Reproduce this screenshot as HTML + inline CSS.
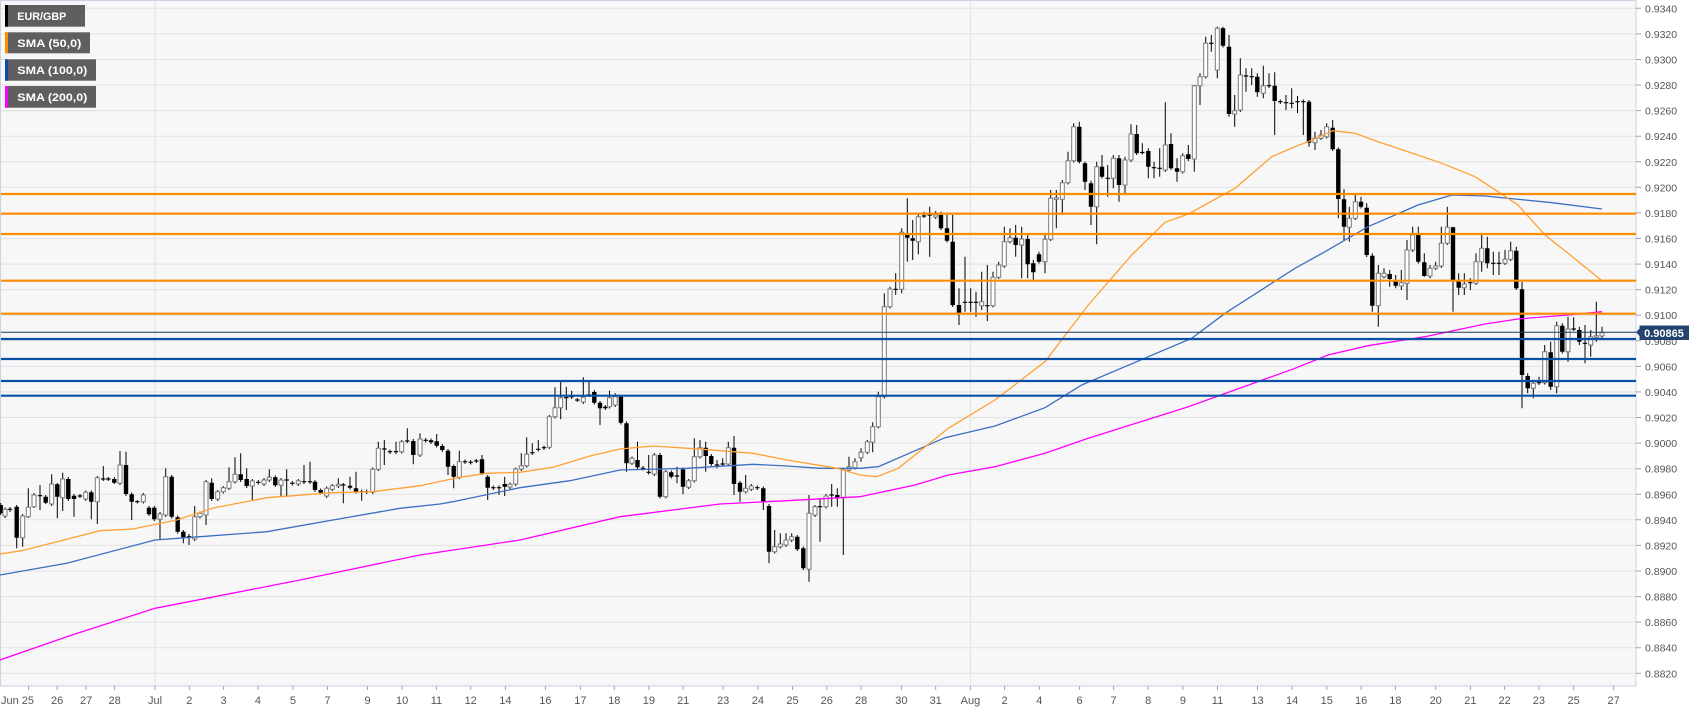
<!DOCTYPE html>
<html><head><meta charset="utf-8"><style>
html,body{margin:0;padding:0;background:#fff;}
svg{display:block;font-family:"Liberation Sans",Arial,sans-serif;}
</style></head><body>
<svg width="1707" height="712" viewBox="0 0 1707 712" xmlns="http://www.w3.org/2000/svg">
<rect x="0" y="0" width="1707" height="712" fill="#fff"/>
<rect x="0.5" y="0.5" width="1635.5" height="685.5" fill="#f7f7f7" stroke="#c9d1e3" stroke-width="1"/>
<g stroke="#e2e2e2" stroke-width="1">
<path d="M1 8.3H1636M1 33.9H1636M1 59.5H1636M1 85H1636M1 110.6H1636M1 136.2H1636M1 161.8H1636M1 187.3H1636M1 212.9H1636M1 238.5H1636M1 264.1H1636M1 289.6H1636M1 315.2H1636M1 340.8H1636M1 366.4H1636M1 391.9H1636M1 417.5H1636M1 443.1H1636M1 468.7H1636M1 494.3H1636M1 519.8H1636M1 545.4H1636M1 571H1636M1 596.6H1636M1 622.1H1636M1 647.7H1636M1 673.3H1636"/>
<path d="M155 1V686M970.4 1V686"/>
</g>
<!-- candles -->
<path fill="none" stroke="#000" stroke-width="1" d="M0.7 503V515 M5 507.5V518 M10 507V512 M16.7 505V548.3 M22.7 514V546.7 M28.3 488.3V518 M34 493V508 M40 485V510 M45.7 495V504 M51.7 474.3V506 M57.3 483V518.3 M62.7 472.7V511 M68.3 477V501 M74 494V516.7 M80 494V498 M85.7 490.5V501 M91.3 490.5V519.3 M97.3 476V524 M103.3 466V481 M108.3 477V481 M114.3 477V484 M120 451V485 M126 451.7V496 M131.7 492.5V520 M137.3 500V503.5 M143.3 493V503.5 M149 506V516 M154.3 506V521 M160 512V539.3 M165.7 468.3V517 M171.7 475V518.5 M177.7 515.5V533.5 M183.3 530V543.3 M189 534V545 M194.7 506V541 M200 511.5V518.5 M206 480V525 M211.7 478.3V501 M217.7 490V501 M223.3 486V493.5 M229 467.3V490 M235 457.3V483.5 M240.7 453.3V482 M246.7 468.3V488 M252.3 479V500 M258.3 480V484.5 M264 478V486 M269.3 469.3V482 M275.3 475.5V487 M281 478V496.7 M286.7 469.3V496.7 M292.3 481V485.5 M298.3 479V486 M304 465V484 M310 461.7V484 M315 480V492 M320.7 488.5V494.5 M326.7 486.5V498 M332.3 484V491 M338.3 478.3V488 M343.3 483V503.3 M350 476.7V489.5 M356 471.7V493.5 M361.7 489.5V500.7 M366.7 489.5V494 M372.7 467.5V494 M378.3 441.7V471 M384.3 440V465 M390 449.5V454 M396 441.7V454 M401.7 440V453.5 M407.3 428.3V443 M413.3 439V464.3 M420 433.3V457 M425.7 438V442.5 M431 438.5V444 M436.7 434V447.5 M442.3 444V452 M448 449V475 M453.7 464.5V488.3 M459.3 450.7V479 M465 459.5V464 M470.7 460V464.5 M476.3 459V463 M482 455V475 M487.7 475V500 M493.3 485.5V490 M499 485.5V495 M504.7 476.7V496 M510 482.5V489 M515.7 467.5V486 M521.3 453.3V471 M526.7 437.3V467.5 M532.3 443.3V455 M538.3 440V451.5 M544 445.5V450 M549.3 415V449 M555 387.3V418.5 M560.7 381.7V419.3 M566.3 386.7V410 M571.7 390.7V399 M577.3 398V402 M583.3 377.3V404 M589 381.7V397 M594.3 390V404.5 M600 401V425 M605.3 405V410 M609.5 390.7V408.5 M615.2 393.3V407 M620.9 395V424.5 M626.5 421.5V471.7 M632 456.5V465 M637.5 441.7V469 M643 466V470.5 M648.7 455V474.5 M654.3 453V476 M660 453V498.5 M665.7 470V498.3 M671.3 470.5V478.5 M677 466.7V483.3 M683 467.5V494.3 M688.7 479V489 M694.3 438.3V482.5 M700 440V458.5 M705.7 441.7V471.7 M711.3 454V466 M717 460V468.3 M722.7 458.3V466 M728.3 441.7V466 M734 436V495 M740 481V501.7 M745.7 475V493.5 M751.3 484V491 M757.3 485.5V490 M763.3 486.5V510 M769 504V563.3 M774.7 530V553.5 M780.3 533.3V548.5 M786 533.3V547 M791.7 533.3V542 M797.3 535V551 M803.3 546.5V570 M809 495V581.7 M815 505V517 M820 498.3V541.7 M826 494V508.5 M831.7 484V506.7 M837.3 488.3V506.7 M843.3 468V555 M849 456.7V472 M855 458.3V469.5 M861 448.3V461.7 M867.3 440V454 M872.7 422.3V452.3 M878.3 391.7V428.5 M884.3 293.3V398.5 M890 286.7V308.5 M895.7 273.3V295 M901.7 228.3V293.3 M907.3 198.3V261.7 M912.7 220V260 M918.3 213.3V254.3 M924 211.7V218 M929.7 206.7V256.7 M935.7 211V219 M941 211.7V230 M947 215V242.5 M952.7 215V307 M959 288.3V325 M965 256.7V311.7 M970.7 288.3V311.7 M976 291.7V316.7 M981.7 271.7V310 M987.3 265V321 M993 271.7V307.5 M998.7 261.7V279 M1004.3 226.7V268 M1010 228.3V243.5 M1015.7 225V256.7 M1021.7 226.7V278.3 M1027.7 235V278.3 M1033.3 260V280 M1039 251.7V263.5 M1045 235V273.3 M1050.7 190V241 M1056.3 190V228.3 M1062.3 180V215 M1068 151.7V184.5 M1073.7 123.3V162.5 M1079.3 121.7V163.5 M1085 161.5V190 M1091 180.7V225 M1096.7 161.7V244.3 M1102 155V178.5 M1107.7 165V196.7 M1113.3 155V188.3 M1119 155V201.7 M1125 156.7V193.3 M1131 124.3V162 M1136.7 125V155 M1142.3 143.3V154.5 M1148.3 148.3V178.3 M1154 161.7V178.3 M1159.7 148.3V176.7 M1165.3 102.3V172 M1171 133.3V170 M1177 158.3V181.7 M1182.7 153.3V173.5 M1188.3 145V161 M1194.3 85V171.7 M1200 73.3V105 M1205.7 36.7V78.5 M1211.3 35V51.7 M1217.3 26.7V78.3 M1223 26.7V47.5 M1229 35V116.7 M1234.7 95V126.7 M1240.3 58.3V112 M1246 68.3V91.7 M1251.7 68.3V85 M1257.3 73.3V96.7 M1263.3 65.7V98.3 M1269 73.3V88 M1274.7 72.3V135 M1280.3 99.5V104 M1286 95V110 M1291.7 88.3V108.3 M1297.5 96V113 M1303.3 99.5V135 M1309 100V146.7 M1315 131.7V150 M1321 130V140 M1326.7 123.3V138.5 M1332.7 120V151 M1338.3 147.5V218.3 M1344 189.3V240 M1349.3 206.7V241.7 M1355.3 193.3V220 M1361 196.7V208.5 M1366.7 203.3V257 M1372.3 253.3V311.7 M1378.3 265V326.7 M1384 268.3V278.5 M1389.7 270V286.7 M1395.7 275V288.3 M1401.3 270V290 M1407 240V300 M1412.7 226.7V252 M1418.3 226.7V263.5 M1424.3 253.3V276.7 M1430 265V278.3 M1435.7 261.7V270 M1441.3 226.7V268 M1447.3 206.7V245 M1453 226.7V311.7 M1458.7 273.3V295 M1464.3 273.3V295 M1470.3 278.3V290 M1476 253.3V285 M1481.7 235V271.7 M1487.3 236.7V268.3 M1493.3 251.7V275 M1499 251.7V275 M1505 250V265 M1510.7 241.7V261 M1516.3 246.7V290 M1522 281.7V408.3 M1527.7 373.3V393.3 M1533.3 380V398.3 M1539 376.7V385 M1544.7 345V384.5 M1550.7 341.7V390 M1556.7 321.7V393.3 M1562.3 323.3V353.5 M1568 316.7V361.7 M1573.7 317.3V331 M1579.3 326.7V345 M1585 325V363.3 M1590.7 330V356.7 M1596.3 301.7V341.7 M1602 326.7V338"/>
<path fill="#000" d="M-1.5 505h4.4V513.3h-4.4z M14.5 506.7h4.4V537.7h-4.4z M43.5 496.7h4.4V502.7h-4.4z M55.1 484.3h4.4V496.7h-4.4z M66.1 479h4.4V499h-4.4z M71.8 495.7h4.4V499h-4.4z M89.1 492.3h4.4V501.7h-4.4z M112.1 479h4.4V482.7h-4.4z M123.8 465h4.4V494h-4.4z M129.5 494.3h4.4V501.7h-4.4z M146.8 507.7h4.4V514.3h-4.4z M152.1 507.7h4.4V519.3h-4.4z M169.5 476.7h4.4V516.7h-4.4z M175.5 517.3h4.4V531.7h-4.4z M181.1 531.7h4.4V537.3h-4.4z M209.5 482.7h4.4V499h-4.4z M238.5 474.3h4.4V480h-4.4z M244.5 479h4.4V486h-4.4z M273.1 477.3h4.4V485.3h-4.4z M312.8 481.7h4.4V490h-4.4z M318.5 490h4.4V492.7h-4.4z M347.8 485.7h4.4V487.7h-4.4z M353.8 488.3h4.4V491.7h-4.4z M411.1 441h4.4V455h-4.4z M428.8 440.3h4.4V442.3h-4.4z M434.5 441.3h4.4V445.7h-4.4z M440.1 446h4.4V450h-4.4z M445.8 450.7h4.4V466.7h-4.4z M451.5 466h4.4V476.7h-4.4z M479.8 459.3h4.4V473.3h-4.4z M485.5 476.7h4.4V487.7h-4.4z M502.5 484h4.4V486.7h-4.4z M592.1 392h4.4V402.7h-4.4z M597.8 402.7h4.4V408.3h-4.4z M603.1 406.7h4.4V408.3h-4.4z M618.7 396.7h4.4V422.7h-4.4z M624.3 423.3h4.4V463.3h-4.4z M635.3 460h4.4V467.3h-4.4z M657.8 455h4.4V496.7h-4.4z M669.1 472.3h4.4V476.7h-4.4z M680.8 469.3h4.4V486.7h-4.4z M703.5 447.7h4.4V456h-4.4z M709.1 456h4.4V464h-4.4z M731.8 447.7h4.4V484h-4.4z M737.8 482.7h4.4V491.7h-4.4z M761.1 488.3h4.4V501.7h-4.4z M766.8 506h4.4V551.7h-4.4z M795.1 536.7h4.4V549.3h-4.4z M801.1 548.3h4.4V568.3h-4.4z M835.1 495h4.4V498.3h-4.4z M905.1 233.3h4.4V237.7h-4.4z M910.5 238.3h4.4V240.7h-4.4z M938.8 215h4.4V228.3h-4.4z M944.8 228.3h4.4V240.7h-4.4z M950.5 241.7h4.4V305h-4.4z M956.8 305h4.4V312.7h-4.4z M1013.5 237.7h4.4V245h-4.4z M1025.5 239h4.4V264.3h-4.4z M1031.1 263.3h4.4V272.3h-4.4z M1036.8 254.3h4.4V261.7h-4.4z M1077.1 126.7h4.4V161.7h-4.4z M1082.8 163.3h4.4V181.7h-4.4z M1088.8 183.3h4.4V206.7h-4.4z M1099.8 166.7h4.4V176.7h-4.4z M1116.8 158.3h4.4V185h-4.4z M1134.5 134h4.4V153.3h-4.4z M1146.1 151h4.4V166.7h-4.4z M1168.8 144h4.4V168.3h-4.4z M1174.8 168.3h4.4V171.7h-4.4z M1186.1 154.3h4.4V159h-4.4z M1220.8 28.3h4.4V45.7h-4.4z M1226.8 46.7h4.4V114h-4.4z M1255.1 76.7h4.4V92.3h-4.4z M1272.5 85.7h4.4V101h-4.4z M1306.8 101.7h4.4V142.7h-4.4z M1330.5 127.7h4.4V149.3h-4.4z M1336.1 149.3h4.4V199h-4.4z M1341.8 199.3h4.4V226.7h-4.4z M1358.8 201.7h4.4V206.7h-4.4z M1364.5 207.7h4.4V255h-4.4z M1370.1 255.7h4.4V305.7h-4.4z M1387.5 274h4.4V279h-4.4z M1393.5 280h4.4V285.7h-4.4z M1416.1 235h4.4V261.7h-4.4z M1422.1 262.3h4.4V276h-4.4z M1450.8 227.3h4.4V280h-4.4z M1456.5 280h4.4V287.7h-4.4z M1485.1 248.3h4.4V263.3h-4.4z M1514.1 250.7h4.4V288.3h-4.4z M1519.8 289.3h4.4V375h-4.4z M1525.5 376h4.4V388.3h-4.4z M1548.5 352.3h4.4V386.7h-4.4z M1560.1 325.7h4.4V351.7h-4.4z M1577.1 330h4.4V341.7h-4.4z"/>
<path fill="#fff" stroke="#7a7a7a" stroke-width="1" d="M3 509.3h4V516h-4z M20.7 516h4V537.7h-4z M26.3 507.3h4V516.7h-4z M32 495h4V506.7h-4z M49.7 484h4V504h-4z M60.7 479h4V497.7h-4z M83.7 492.3h4V499h-4z M95.3 477.7h4V501.7h-4z M118 465h4V483.3h-4z M141.3 495h4V501.7h-4z M158 514h4V519.3h-4z M163.7 476.7h4V515h-4z M192.7 516.7h4V539h-4z M198 513.3h4V516.7h-4z M204 481.7h4V515h-4z M215.7 491.7h4V499h-4z M221.3 487.7h4V491.7h-4z M227 481.7h4V488.3h-4z M233 474.3h4V481.7h-4z M250.3 481h4V486h-4z M262 480h4V484h-4z M267.3 477.3h4V480h-4z M279 480h4V485.3h-4z M296.3 480.7h4V484h-4z M324.7 488.3h4V496h-4z M330.3 485.7h4V489.3h-4z M336.3 484.3h4V486h-4z M370.7 469.3h4V492.3h-4z M376.3 448.3h4V469.3h-4z M399.7 441.7h4V451.7h-4z M418 439h4V455h-4z M457.3 461.7h4V477.3h-4z M508 484.3h4V487h-4z M513.7 469h4V484h-4z M519.3 465.7h4V469h-4z M524.7 454.3h4V465.7h-4z M547.3 416.7h4V447.3h-4z M553 407.7h4V416.7h-4z M558.7 397.7h4V407.7h-4z M581.3 397.3h4V402h-4z M607.5 397.7h4V406.7h-4z M613.2 396.7h4V405h-4z M630 458.3h4V463.3h-4z M652.3 455h4V474h-4z M663.7 471.7h4V496.7h-4z M686.7 480.7h4V487.3h-4z M692.3 456.7h4V480.7h-4z M698 447.7h4V456.7h-4z M726.3 447.7h4V464h-4z M743.7 488.3h4V491.7h-4z M749.3 486h4V489.3h-4z M772.7 546.7h4V551.7h-4z M778.3 544h4V546.7h-4z M784 540h4V545h-4z M789.7 536.7h4V540h-4z M807 513.3h4V569.3h-4z M813 506.7h4V515h-4z M824 496h4V506.7h-4z M841.3 470h4V497.3h-4z M847 466.7h4V470h-4z M853 461.7h4V467.7h-4z M859 452.3h4V457.7h-4z M865.3 441.7h4V452.3h-4z M870.7 426.7h4V442.3h-4z M876.3 396.7h4V426.7h-4z M882.3 306.7h4V396.7h-4z M888 289h4V306.7h-4z M899.7 232.3h4V289.3h-4z M916.3 216.7h4V241.7h-4z M933.7 215h4V217h-4z M979.7 301.7h4V305.7h-4z M991 277.3h4V305.7h-4z M996.7 265h4V277.3h-4z M1002.3 241.7h4V266h-4z M1008 237.7h4V241.7h-4z M1019.7 239h4V245h-4z M1043 239.3h4V261.7h-4z M1048.7 198.3h4V239.3h-4z M1054.3 197.7h4V199.3h-4z M1060.3 182.7h4V199.3h-4z M1066 160.7h4V182.7h-4z M1071.7 126.7h4V160.7h-4z M1094.7 166.7h4V206.7h-4z M1111.3 158.3h4V178.3h-4z M1123 160h4V185h-4z M1129 134h4V160h-4z M1163.3 145h4V170h-4z M1180.7 155.7h4V171.7h-4z M1192.3 85.7h4V159h-4z M1198 76.7h4V85.7h-4z M1203.7 43.3h4V76.7h-4z M1215.3 28.3h4V70h-4z M1232.7 110.7h4V114h-4z M1238.3 75h4V110h-4z M1261.3 85.7h4V93.3h-4z M1313 138.3h4V142.7h-4z M1319 135h4V138.3h-4z M1324.7 126.7h4V136.7h-4z M1347.3 218.3h4V227.3h-4z M1353.3 201.7h4V218.3h-4z M1376.3 273.3h4V305.7h-4z M1382 273.3h4V276.7h-4z M1399.3 282.7h4V286h-4z M1405 250h4V283.3h-4z M1410.7 235h4V250h-4z M1428 268.3h4V276h-4z M1433.7 266h4V268.3h-4z M1439.3 243.3h4V266h-4z M1445.3 227.3h4V243.3h-4z M1462.3 284h4V287.7h-4z M1474 261.7h4V283.3h-4z M1479.7 248.3h4V261.7h-4z M1503 259.3h4V263.3h-4z M1508.7 250.7h4V259.3h-4z M1531.3 383.3h4V388.3h-4z M1542.7 351.7h4V382.7h-4z M1554.7 325.7h4V386.7h-4z M1566 329h4V351.7h-4z M1588.7 336.7h4V345h-4z M1594.3 335.7h4V337.3h-4z M1600 332.7h4V336h-4z"/>
<path fill="#000" d="M7.8 508.7h4.4v1.2h-4.4z M37.8 495.1h4.4v1.2h-4.4z M77.8 495.4h4.4v1.2h-4.4z M101.1 478.4h4.4v1.2h-4.4z M106.1 478.4h4.4v1.2h-4.4z M135.1 501.1h4.4v1.2h-4.4z M186.8 536.1h4.4v1.2h-4.4z M256.1 481.7h4.4v1.2h-4.4z M284.5 479.4h4.4v1.2h-4.4z M290.1 482.7h4.4v1.2h-4.4z M301.8 481.1h4.4v1.2h-4.4z M307.8 481.1h4.4v1.2h-4.4z M341.1 484.4h4.4v1.2h-4.4z M359.5 491.1h4.4v1.2h-4.4z M364.5 491.1h4.4v1.2h-4.4z M382.1 448.4h4.4v1.2h-4.4z M387.8 451.1h4.4v1.2h-4.4z M393.8 451.1h4.4v1.2h-4.4z M405.1 440.4h4.4v1.2h-4.4z M423.5 439.7h4.4v1.2h-4.4z M462.8 461.1h4.4v1.2h-4.4z M468.5 461.7h4.4v1.2h-4.4z M474.1 460.4h4.4v1.2h-4.4z M491.1 487.1h4.4v1.2h-4.4z M496.8 487.1h4.4v1.2h-4.4z M530.1 452.1h4.4v1.2h-4.4z M536.1 448.7h4.4v1.2h-4.4z M541.8 447.1h4.4v1.2h-4.4z M564.1 397.1h4.4v1.2h-4.4z M569.5 396.1h4.4v1.2h-4.4z M575.1 399.4h4.4v1.2h-4.4z M586.8 394.4h4.4v1.2h-4.4z M640.8 467.7h4.4v1.2h-4.4z M646.5 471.7h4.4v1.2h-4.4z M674.8 475.4h4.4v1.2h-4.4z M714.8 464.4h4.4v1.2h-4.4z M720.5 463.4h4.4v1.2h-4.4z M755.1 487.1h4.4v1.2h-4.4z M817.8 506.1h4.4v1.2h-4.4z M829.5 494.4h4.4v1.2h-4.4z M893.5 288.7h4.4v1.2h-4.4z M921.8 215.4h4.4v1.2h-4.4z M927.5 214.4h4.4v1.2h-4.4z M962.8 301.7h4.4v1.2h-4.4z M968.5 301.7h4.4v1.2h-4.4z M973.8 301.7h4.4v1.2h-4.4z M985.1 305.1h4.4v1.2h-4.4z M1105.5 177.7h4.4v1.2h-4.4z M1140.1 151.9h4.4v1.2h-4.4z M1151.8 167.1h4.4v1.2h-4.4z M1157.5 167.7h4.4v1.2h-4.4z M1209.1 42.7h4.4v1.2h-4.4z M1243.8 75.4h4.4v1.2h-4.4z M1249.5 76.1h4.4v1.2h-4.4z M1266.8 85.1h4.4v1.2h-4.4z M1278.1 101.1h4.4v1.2h-4.4z M1283.8 102.1h4.4v1.2h-4.4z M1289.5 102.7h4.4v1.2h-4.4z M1295.3 101.1h4.4v1.2h-4.4z M1301.1 101.1h4.4v1.2h-4.4z M1468.1 282.1h4.4v1.2h-4.4z M1491.1 262.7h4.4v1.2h-4.4z M1496.8 262.7h4.4v1.2h-4.4z M1536.8 382.1h4.4v1.2h-4.4z M1571.5 328.4h4.4v1.2h-4.4z M1582.8 342.7h4.4v1.2h-4.4z"/>
<!-- SMAs -->
<polyline fill="none" stroke="#ff00ff" stroke-width="1.3" points="0,660 66.7,636.7 155,608.3 300,580 420,555 520,540 620,516.7 720,504 787,500.7 860,496.7 915,485 948.3,475 995,466.7 1045,453.3 1088.3,438.3 1188.3,406.7 1295,368.3 1328,355 1368,345.7 1425,336.7 1485,324 1518,319 1568,315 1602,311.7"/>
<polyline fill="none" stroke="#3a6fc2" stroke-width="1.3" points="0,575 66.7,563.3 155,540 200,536.7 267,531.7 333,520 400,508.3 440,504 453,501.7 520,487.7 570,480.7 620,470 687,468.3 753,464.3 787,466 820,468.3 860,468.3 878.3,466.7 945,437.7 995,426 1045,407.7 1081.7,385 1191.7,338.3 1225,313.3 1295,268.3 1325,251.7 1368,226.7 1418,205 1452,195 1485,196 1552,202.7 1602,209"/>
<polyline fill="none" stroke="#ffa033" stroke-width="1.3" points="0,554 21.7,550.7 60,541 100,530.7 133,529 176.7,520 213,508 267,497.7 333,492.7 373,491.7 420,485.7 460,477.3 486.7,473.3 520,472.3 553,467.3 590,456 620,449 653,446 703,449.3 753,453.3 787,460 837,468.3 860,475 876.7,476.7 898.3,468.3 948.3,428.3 995,400 1045,361.7 1088.3,305 1131.7,255 1165,222.3 1188.3,214 1235,188.3 1271.7,156.7 1295,146.7 1308,141.7 1333,130.7 1355,133.3 1378,141.7 1408,151.7 1442,163.3 1475,176.7 1498,191.7 1518,205 1545,235 1568,253.3 1602,280.7"/>
<!-- horizontal levels -->
<g stroke-width="2.2">
<path stroke="#ff8c00" d="M1 194H1636M1 213.7H1636M1 234H1636M1 280.7H1636M1 313.7H1636"/>
<path stroke="#0a4fa6" d="M1 339H1636M1 359H1636M1 381H1636M1 395.7H1636"/>
</g>
<path stroke="#1f3a63" stroke-width="1" d="M1 332.3H1636"/>
<!-- y axis -->
<g stroke="#9aa3b5" stroke-width="1">
<path d="M1636 8.3h5M1636 33.9h5M1636 59.5h5M1636 85h5M1636 110.6h5M1636 136.2h5M1636 161.8h5M1636 187.3h5M1636 212.9h5M1636 238.5h5M1636 264.1h5M1636 289.6h5M1636 315.2h5M1636 340.8h5M1636 366.4h5M1636 391.9h5M1636 417.5h5M1636 443.1h5M1636 468.7h5M1636 494.3h5M1636 519.8h5M1636 545.4h5M1636 571h5M1636 596.6h5M1636 622.1h5M1636 647.7h5M1636 673.3h5"/>
</g>
<g fill="#555" font-size="10.5">
<text x="1645" y="12.3">0.9340</text>
<text x="1645" y="37.9">0.9320</text>
<text x="1645" y="63.5">0.9300</text>
<text x="1645" y="89">0.9280</text>
<text x="1645" y="114.6">0.9260</text>
<text x="1645" y="140.2">0.9240</text>
<text x="1645" y="165.8">0.9220</text>
<text x="1645" y="191.3">0.9200</text>
<text x="1645" y="216.9">0.9180</text>
<text x="1645" y="242.5">0.9160</text>
<text x="1645" y="268.1">0.9140</text>
<text x="1645" y="293.6">0.9120</text>
<text x="1645" y="319.2">0.9100</text>
<text x="1645" y="344.8">0.9080</text>
<text x="1645" y="370.4">0.9060</text>
<text x="1645" y="395.9">0.9040</text>
<text x="1645" y="421.5">0.9020</text>
<text x="1645" y="447.1">0.9000</text>
<text x="1645" y="472.7">0.8980</text>
<text x="1645" y="498.3">0.8960</text>
<text x="1645" y="523.8">0.8940</text>
<text x="1645" y="549.4">0.8920</text>
<text x="1645" y="575">0.8900</text>
<text x="1645" y="600.6">0.8880</text>
<text x="1645" y="626.1">0.8860</text>
<text x="1645" y="651.7">0.8840</text>
<text x="1645" y="677.3">0.8820</text>
</g>
<!-- price tag -->
<path fill="#24446f" d="M1636 332.3L1639.5 328.5V325.5H1689V340H1639.5V336z"/>
<text x="1664" y="337" fill="#fff" font-size="11" font-weight="bold" text-anchor="middle">0.90865</text>
<!-- x axis -->
<path stroke="#9aa3b5" stroke-width="1" d="M28.6 686v4M57.1 686v4M86.1 686v4M114.6 686v4M155 686v4M189.3 686v4M223.6 686v4M257.9 686v4M292.9 686v4M327.5 686v4M367.5 686v4M402.1 686v4M436.4 686v4M470.7 686v4M505.4 686v4M545.4 686v4M580.4 686v4M614.3 686v4M648.9 686v4M683.2 686v4M723.2 686v4M757.9 686v4M792.5 686v4M826.8 686v4M861.1 686v4M901.4 686v4M935.7 686v4M970.4 686v4M1004.6 686v4M1039.3 686v4M1079.6 686v4M1113.6 686v4M1148.2 686v4M1182.9 686v4M1217.5 686v4M1257.5 686v4M1292.1 686v4M1326.8 686v4M1361.1 686v4M1395.4 686v4M1435.7 686v4M1470.4 686v4M1504.6 686v4M1538.9 686v4M1573.6 686v4M1613.6 686v4"/>
<g fill="#555" font-size="11" text-anchor="middle">
<text x="1" y="704" text-anchor="start">Jun 25</text>
<text x="57.1" y="704">26</text><text x="86.1" y="704">27</text><text x="114.6" y="704">28</text>
<text x="155" y="704">Jul</text><text x="189.3" y="704">2</text><text x="223.6" y="704">3</text>
<text x="257.9" y="704">4</text><text x="292.9" y="704">5</text><text x="327.5" y="704">7</text>
<text x="367.5" y="704">9</text><text x="402.1" y="704">10</text><text x="436.4" y="704">11</text>
<text x="470.7" y="704">12</text><text x="505.4" y="704">14</text><text x="545.4" y="704">16</text>
<text x="580.4" y="704">17</text><text x="614.3" y="704">18</text><text x="648.9" y="704">19</text>
<text x="683.2" y="704">21</text><text x="723.2" y="704">23</text><text x="757.9" y="704">24</text>
<text x="792.5" y="704">25</text><text x="826.8" y="704">26</text><text x="861.1" y="704">28</text>
<text x="901.4" y="704">30</text><text x="935.7" y="704">31</text><text x="970.4" y="704">Aug</text>
<text x="1004.6" y="704">2</text><text x="1039.3" y="704">4</text><text x="1079.6" y="704">6</text>
<text x="1113.6" y="704">7</text><text x="1148.2" y="704">8</text><text x="1182.9" y="704">9</text>
<text x="1217.5" y="704">11</text><text x="1257.5" y="704">13</text><text x="1292.1" y="704">14</text>
<text x="1326.8" y="704">15</text><text x="1361.1" y="704">16</text><text x="1395.4" y="704">18</text>
<text x="1435.7" y="704">20</text><text x="1470.4" y="704">21</text><text x="1504.6" y="704">22</text>
<text x="1538.9" y="704">23</text><text x="1573.6" y="704">25</text><text x="1613.6" y="704">27</text>
</g>
<!-- legend -->
<g>
<rect x="5" y="5" width="80" height="21.7" fill="#5f5f5f"/>
<rect x="5" y="5" width="3" height="21.7" fill="#000"/>
<rect x="5" y="32.3" width="85" height="21" fill="#5f5f5f"/>
<rect x="5" y="32.3" width="3" height="21" fill="#ff8c00"/>
<rect x="5" y="59.3" width="91" height="21.4" fill="#5f5f5f"/>
<rect x="5" y="59.3" width="3" height="21.4" fill="#0a4fa6"/>
<rect x="5" y="86" width="91" height="21.7" fill="#5f5f5f"/>
<rect x="5" y="86" width="3" height="21.7" fill="#ff00ff"/>
<g fill="#fff" font-size="11" font-weight="bold">
<text x="17.3" y="20" textLength="49" lengthAdjust="spacingAndGlyphs">EUR/GBP</text>
<text x="17.3" y="47" textLength="64" lengthAdjust="spacingAndGlyphs">SMA (50,0)</text>
<text x="17.3" y="74" textLength="70" lengthAdjust="spacingAndGlyphs">SMA (100,0)</text>
<text x="17.3" y="101" textLength="70" lengthAdjust="spacingAndGlyphs">SMA (200,0)</text>
</g>
</g>
</svg>
</body></html>
